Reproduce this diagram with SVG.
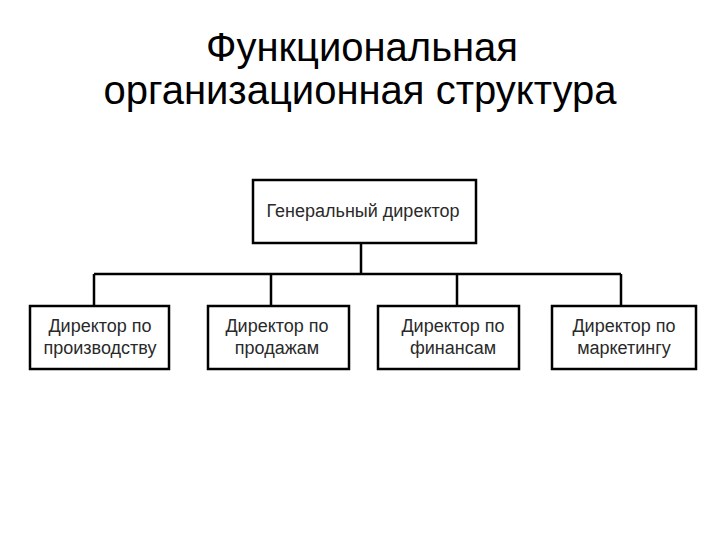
<svg xmlns="http://www.w3.org/2000/svg" width="720" height="540" viewBox="0 0 720 540">
<style>
.box{fill:#fff;stroke:#000;stroke-width:2.5}
.lbl{font-family:"Liberation Sans",Arial,sans-serif;font-size:18px;fill:#2a2a2a;text-anchor:middle}
.title{font-family:"Liberation Sans",Arial,sans-serif;font-size:40px;fill:#000;text-anchor:middle}
.conn{stroke:#000;stroke-width:2.5;fill:none}
</style>
<rect width="720" height="540" fill="#fff"/>
<text class="title" x="362" y="61">Функциональная</text>
<text class="title" x="360" y="104">организационная структура</text>
<g id="connectors">
<path class="conn" d="M361 243V274M94 274H621M94 274V306M271 274V306M457 274V306M621 274V306"/>
</g>
<g id="gen"><rect class="box" x="253" y="180" width="223" height="63"/><text class="lbl" x="363" y="217">Генеральный директор</text></g>
<g id="prod"><rect class="box" x="30" y="306" width="139" height="63"/><text class="lbl" x="100" y="332">Директор по</text><text class="lbl" x="100" y="354">производству</text></g>
<g id="sales"><rect class="box" x="208" y="306" width="141" height="63"/><text class="lbl" x="277" y="332">Директор по</text><text class="lbl" x="277" y="354">продажам</text></g>
<g id="fin"><rect class="box" x="378" y="306" width="141" height="63"/><text class="lbl" x="453" y="332">Директор по</text><text class="lbl" x="453" y="354">финансам</text></g>
<g id="mkt"><rect class="box" x="552" y="306" width="144" height="63"/><text class="lbl" x="624" y="332">Директор по</text><text class="lbl" x="624" y="354">маркетингу</text></g>
</svg>
